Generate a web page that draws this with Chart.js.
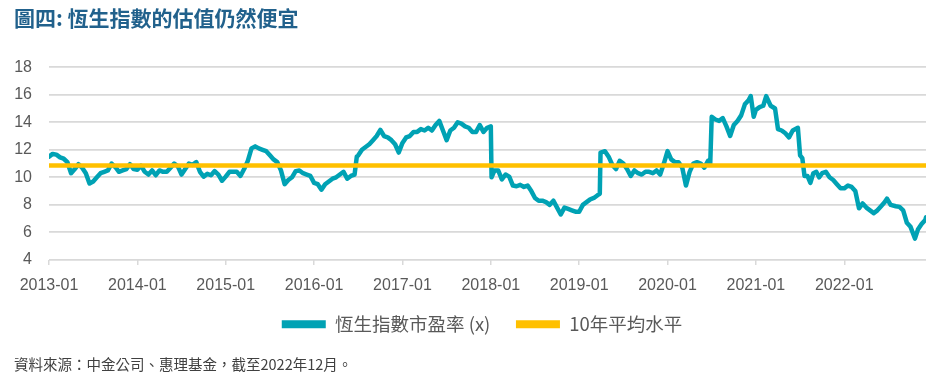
<!DOCTYPE html>
<html>
<head>
<meta charset="utf-8">
<script src="https://cdn.jsdelivr.net/npm/chart.js@4.4.1/dist/chart.umd.min.js"></script>
<style>
  body { margin: 0; background: #fff; }
</style>
</head>
<body>
<canvas id="peChart" width="949" height="384"></canvas>
<script>
// HSI P/E ratio (roughly two points a month)
const dates = [
  '2013-01-01','2013-01-16','2013-02-01','2013-02-16','2013-03-01','2013-03-16','2013-04-01','2013-04-16',
  '2013-05-01','2013-05-16','2013-06-01','2013-06-16','2013-07-01','2013-07-16','2013-08-01','2013-08-16',
  '2013-09-01','2013-09-16','2013-10-01','2013-10-16','2013-11-01','2013-11-16','2013-12-01','2013-12-16',
  '2014-01-01','2014-01-16','2014-02-01','2014-02-16','2014-03-01','2014-03-16','2014-04-01','2014-04-16',
  '2014-05-01','2014-05-16','2014-06-01','2014-06-16','2014-07-01','2014-07-16','2014-08-01','2014-08-16',
  '2014-09-01','2014-09-16','2014-10-01','2014-10-16','2014-11-01','2014-11-16','2014-12-01','2014-12-16',
  '2015-01-01','2015-01-16','2015-02-01','2015-02-16','2015-03-01','2015-03-16','2015-04-01','2015-04-16',
  '2015-05-01','2015-05-16','2015-06-01','2015-06-16','2015-07-01','2015-07-16','2015-08-01','2015-08-16',
  '2015-09-01','2015-09-16','2015-10-01','2015-10-16','2015-11-01','2015-11-16','2015-12-01','2015-12-16',
  '2016-01-01','2016-01-16','2016-02-01','2016-02-16','2016-03-01','2016-03-16','2016-04-01','2016-04-16',
  '2016-05-01','2016-05-16','2016-06-01','2016-06-16','2016-06-25','2016-07-01','2016-07-16','2016-08-01',
  '2016-08-16','2016-09-01','2016-09-16','2016-10-01','2016-10-16','2016-11-01','2016-11-16','2016-12-01',
  '2016-12-16','2017-01-01','2017-01-16','2017-02-01','2017-02-16','2017-03-01','2017-03-16','2017-04-01',
  '2017-04-16','2017-05-01','2017-05-16','2017-06-01','2017-06-16','2017-07-01','2017-07-16','2017-08-01',
  '2017-08-16','2017-09-01','2017-09-16','2017-10-01','2017-10-16','2017-11-01','2017-11-16','2017-12-01',
  '2017-12-16','2018-01-01','2018-01-04','2018-01-16','2018-02-01','2018-02-16','2018-03-01','2018-03-16',
  '2018-04-01','2018-04-16','2018-05-01','2018-05-16','2018-06-01','2018-06-16','2018-07-01','2018-07-16',
  '2018-08-01','2018-08-16','2018-09-01','2018-09-16','2018-10-01','2018-10-16','2018-11-01','2018-11-16',
  '2018-12-01','2018-12-16','2019-01-01','2019-01-16','2019-02-01','2019-02-16','2019-03-01','2019-03-16',
  '2019-03-25','2019-03-28','2019-04-16','2019-05-01','2019-05-16','2019-06-01','2019-06-16','2019-07-01',
  '2019-07-16','2019-08-01','2019-08-16','2019-09-01','2019-09-16','2019-10-01','2019-10-16','2019-11-01',
  '2019-11-16','2019-12-01','2019-12-16','2020-01-01','2020-01-16','2020-02-01','2020-02-16','2020-03-01',
  '2020-03-16','2020-04-01','2020-04-16','2020-05-01','2020-05-16','2020-06-01','2020-06-16','2020-06-25',
  '2020-07-01','2020-07-16','2020-08-01','2020-08-16','2020-09-01','2020-09-16','2020-10-01','2020-10-16',
  '2020-11-01','2020-11-16','2020-12-01','2020-12-10','2020-12-22','2021-01-01','2021-01-16','2021-02-01',
  '2021-02-13','2021-03-01','2021-03-19','2021-04-01','2021-04-16','2021-05-01','2021-05-16','2021-06-01',
  '2021-06-22','2021-07-01','2021-07-10','2021-07-19','2021-08-01','2021-08-13','2021-08-25','2021-09-07',
  '2021-09-19','2021-10-01','2021-10-16','2021-11-01','2021-11-16','2021-12-01','2021-12-16','2022-01-01',
  '2022-01-16','2022-02-01','2022-02-16','2022-03-01','2022-03-16','2022-04-01','2022-04-16','2022-05-01',
  '2022-05-16','2022-06-01','2022-06-16','2022-06-25','2022-07-10','2022-08-01','2022-08-16','2022-09-01',
  '2022-09-16','2022-10-01','2022-10-19','2022-11-01','2022-11-16','2022-12-01','2022-12-04'
];

const pe = [
  11.5, 11.7, 11.65, 11.45, 11.35, 11.1, 10.3, 10.6,
  10.95, 10.7, 10.3, 9.55, 9.7, 10.0, 10.3, 10.4,
  10.5, 11.0, 10.75, 10.4, 10.5, 10.6, 10.95, 10.6,
  10.55, 10.85, 10.4, 10.2, 10.5, 10.15, 10.5, 10.4,
  10.4, 10.7, 11.0, 10.8, 10.2, 10.6, 11.0, 10.9,
  11.1, 10.4, 10.05, 10.25, 10.15, 10.45, 10.2, 9.75,
  10.05, 10.4, 10.4, 10.4, 10.1, 10.6, 11.2, 12.1,
  12.25, 12.1, 12.0, 11.9, 11.6, 11.3, 11.1, 10.5,
  9.5, 9.8, 10.0, 10.45, 10.5, 10.3, 10.2, 10.1,
  9.6, 9.5, 9.1, 9.5, 9.7, 9.9, 10.0, 10.2,
  10.4, 9.9, 10.1, 10.2, 11.5, 11.6, 12.0, 12.2,
  12.4, 12.7, 13.0, 13.45, 13.0, 12.9, 12.7, 12.4,
  11.8, 12.5, 12.9, 13.0, 13.3, 13.3, 13.5, 13.4,
  13.6, 13.4, 13.8, 14.1, 13.4, 12.7, 13.4, 13.6,
  14.0, 13.9, 13.7, 13.6, 13.3, 13.3, 13.8, 13.3,
  13.6, 13.7, 10.0, 10.5, 10.5, 9.85, 10.2, 10.05,
  9.4, 9.35, 9.45, 9.3, 9.4, 9.0, 8.5, 8.3,
  8.3, 8.2, 8.0, 8.3, 7.8, 7.3, 7.8, 7.7,
  7.6, 7.5, 7.5, 8.0, 8.2, 8.4, 8.5, 8.7,
  8.8, 11.8, 11.9, 11.5, 10.9, 10.6, 11.2, 11.0,
  10.6, 10.1, 10.5, 10.3, 10.2, 10.4, 10.4, 10.3,
  10.5, 10.2, 11.0, 11.9, 11.3, 11.1, 11.1, 10.7,
  9.4, 10.4, 11.0, 11.1, 11.0, 10.7, 11.2, 11.0,
  14.4, 14.2, 14.1, 14.3, 13.7, 13.0, 13.8, 14.1,
  14.5, 15.3, 15.6, 15.9, 14.4, 14.9, 15.1, 15.2,
  15.9, 15.2, 15.0, 13.5, 13.4, 13.2, 12.9, 13.4,
  13.6, 11.6, 11.4, 10.1, 10.1, 9.6, 10.3, 10.4,
  10.0, 10.3, 10.4, 10.0, 9.8, 9.5, 9.2, 9.2,
  9.4, 9.3, 9.0, 7.75, 8.1, 7.8, 7.6, 7.4,
  7.6, 7.9, 8.2, 8.45, 8.0, 7.9, 7.85, 7.6,
  6.7, 6.4, 5.55, 6.2, 6.6, 6.9, 7.1
];

const avgLevel = 10.85;
const yearLabels = ['2013-01','2014-01','2015-01','2016-01','2017-01','2018-01','2019-01','2020-01','2021-01','2022-01'];
const seriesNames = ['恆生指數市盈率 (x)', '10年平均水平'];
const yTicks = [4, 6, 8, 10, 12, 14, 16, 18];

// months since 2013-01
function toMonths(s) {
  const [y, m, d] = s.split('-').map(Number);
  return (y - 2013) * 12 + (m - 1) + (d - 1) / 30;
}

const xs = dates.map(toMonths);
const lastX = xs[xs.length - 1];

const tickFont = { family: '"Liberation Sans", Arial, sans-serif', size: 16 };
const cjkFont = '"Noto Sans CJK TC", "Noto Sans CJK SC", sans-serif';

// legend sits a little right of the canvas centre in the original
const legendShift = {
  id: 'legendShift',
  afterLayout(chart) {
    chart.legend.left += 12;
    chart.legend.right += 12;
  }
};

new Chart(document.getElementById('peChart'), {
  type: 'line',
  data: {
    datasets: [{
      label: seriesNames[0],
      data: xs.map((x, i) => ({ x: x, y: pe[i] })),
      borderColor: '#00A2B4',
      backgroundColor: '#00A2B4',
      borderWidth: 4.5,
      pointRadius: 0,
      tension: 0,
      borderJoinStyle: 'round',
      borderCapStyle: 'round',
      order: 1
    }, {
      label: seriesNames[1],
      data: [{ x: 0, y: avgLevel }, { x: lastX, y: avgLevel }],
      borderColor: '#FFC000',
      backgroundColor: '#FFC000',
      borderWidth: 4.5,
      pointRadius: 0,
      order: 0
    }]
  },
  options: {
    responsive: false,
    animation: false,
    layout: { padding: { left: 14, right: 23, top: 0, bottom: 0 } },
    scales: {
      x: {
        type: 'linear',
        min: 0,
        max: lastX,
        afterBuildTicks: axis => { axis.ticks = yearLabels.map((_, i) => ({ value: i * 12 })); },
        ticks: {
          autoSkip: false,
          maxRotation: 0,
          padding: 11,
          color: '#595959',
          font: tickFont,
          callback: v => yearLabels[Math.round(v / 12)]
        },
        grid: { drawOnChartArea: false, color: '#d9d9d9', lineWidth: 1.5, tickLength: 5 },
        border: { display: false }
      },
      y: {
        min: 4,
        max: 18,
        afterBuildTicks: axis => { axis.ticks = yTicks.map(v => ({ value: v })); },
        afterFit: axis => { axis.width = 35; },
        ticks: { padding: 17, color: '#595959', font: tickFont },
        grid: { color: '#d9d9d9', lineWidth: 1.8, drawTicks: false },
        border: { display: false }
      }
    },
    plugins: {
      title: {
        display: true,
        text: '圖四: 恆生指數的估值仍然便宜',
        align: 'start',
        color: '#21618C',
        font: { family: cjkFont, size: 21, weight: 'bold' },
        padding: { top: 5, bottom: 37 }
      },
      subtitle: {
        display: true,
        position: 'bottom',
        align: 'start',
        text: '資料來源：中金公司、惠理基金，截至2022年12月。',
        color: '#404040',
        font: { family: cjkFont, size: 14.5 },
        padding: { top: 12, bottom: 11 }
      },
      legend: {
        position: 'bottom',
        labels: {
          boxWidth: 44,
          boxHeight: 8,
          padding: 9,
          color: '#595959',
          font: { family: cjkFont, size: 18.5 },
          generateLabels: chart => {
            const items = Chart.defaults.plugins.legend.labels.generateLabels(chart);
            items.sort((a, b) => a.datasetIndex - b.datasetIndex);
            items.forEach(item => { item.lineWidth = 0; });
            items[0].text += '    ';
            return items;
          }
        }
      },
      tooltip: { enabled: false }
    }
  },
  plugins: [legendShift]
});
</script>
</body>
</html>
